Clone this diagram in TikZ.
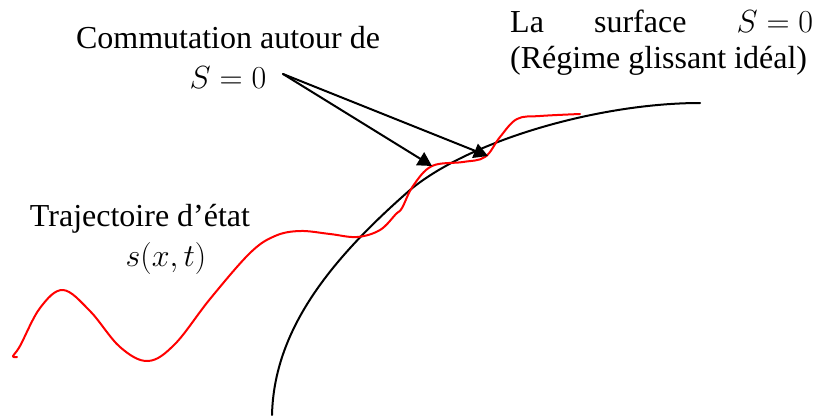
\documentclass[tikz,border=0pt]{standalone}
\usepackage{fix-cm}
\usepackage{fontspec}
\setmainfont{Liberation Serif}
\usetikzlibrary{arrows.meta}
\begin{document}
\begin{tikzpicture}[x=1pt, y=-1pt, font=\fontsize{32}{40}\selectfont, line join=round, line cap=round, >={Triangle[length=14pt,width=15pt]}]
			\useasboundingbox (0,0) rectangle (819,415);
			% surface S=0
			\draw[line width=2pt] (272,415) .. controls (274,330) and (330,260) .. (410,190) .. controls (470,140) and (600,103) .. (700,103);
			% trajectoire d'etat
			\draw[red, line width=2pt] plot[smooth, tension=0.6] coordinates {(17,357) (13,356) (20,346) (40,308) (63,290) (90,311) (120,347) (148,361) (175,344) (210,299) (250,253) (275,236) (300,231) (330,234) (357,237) (380,230) (396,214) (402,208) (413,186) (432,166) (463,162) (485,157) (500,137) (517,119) (540,116) (580,114)};
			\node[align=center] (comm) at (228,57) {Commutation autour de\\ $S=0$};
			\node[align=center] (traj) at (140,239) {Trajectoire d’état\\ \hspace*{52pt}$s(x,t)$};
			\node[font=\fontsize{32}{36}\selectfont, text width=303pt, align=justify, inner sep=0pt, anchor=north west] (surf) at (510,10) {La surface \mbox{$S=0$}\linebreak (Régime glissant idéal)};
			\coordinate (src) at (283,74);
			\coordinate (tipa) at (432,166);
			\coordinate (tipb) at (488,156);
			\draw[->, line width=2pt] (src) -- (tipa);
			\draw[->, line width=2pt] (src) -- (tipb);
		\end{tikzpicture}
\end{document}
